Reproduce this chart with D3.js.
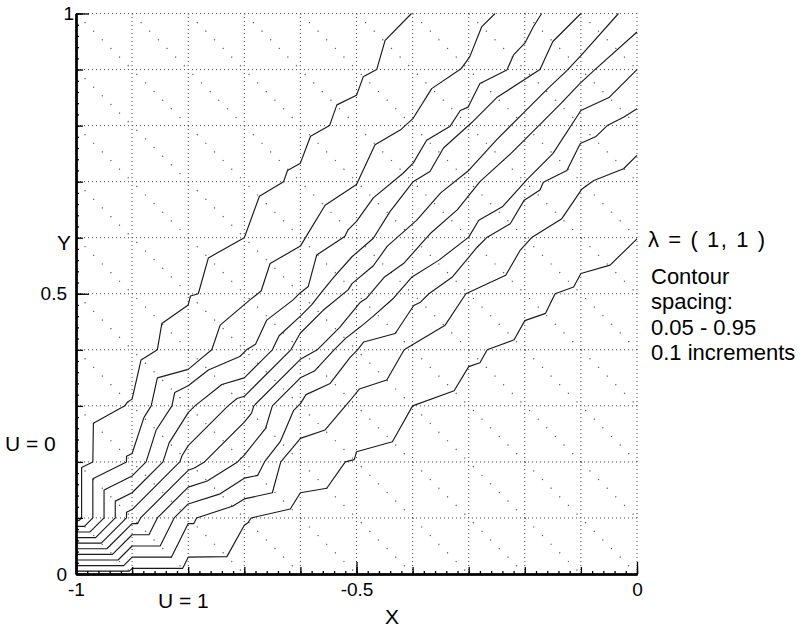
<!DOCTYPE html>
<html>
<head>
<meta charset="utf-8">
<script src="https://cdnjs.cloudflare.com/ajax/libs/d3/7.8.5/d3.min.js"></script>
<style>
  body { margin: 0; background: #fff; }
  svg { display: block; font-family: "Liberation Sans", Arial, Helvetica, sans-serif; }
</style>
</head>
<body>
<div class="canvas"></div>
<script>
// contour levels, 0.05 - 0.95 in 0.1 steps
const levels = [0.05, 0.15, 0.25, 0.35, 0.45, 0.55, 0.65, 0.75, 0.85, 0.95];
const xTickLabels = [-1, -0.5, 0];
const yTickLabels = [0, 0.5, 1];
const gridStep = 0.1;
const minorStep = 0.02;

// contour polylines [x, y]
const contour05 = [[-1,0.095],[-0.995,0.095],[-0.99,0.1],[-0.99,0.19],[-0.97,0.2],[-0.969,0.269],[-0.913,0.3],[-0.908,0.307],[-0.9,0.312],[-0.884,0.382],[-0.855,0.4],[-0.847,0.447],[-0.8,0.48],[-0.796,0.496],[-0.782,0.5],[-0.764,0.564],[-0.7,0.6],[-0.673,0.674],[-0.63,0.7],[-0.623,0.72],[-0.6,0.733],[-0.582,0.781],[-0.548,0.8],[-0.535,0.837],[-0.5,0.854],[-0.488,0.887],[-0.464,0.9],[-0.449,0.952],[-0.402,1]];
const contour15 = [[-1,0.085],[-0.985,0.085],[-0.97,0.1],[-0.97,0.17],[-0.91,0.2],[-0.91,0.21],[-0.9,0.215],[-0.879,0.279],[-0.866,0.3],[-0.855,0.35],[-0.8,0.365],[-0.775,0.386],[-0.758,0.4],[-0.743,0.444],[-0.69,0.489],[-0.67,0.505],[-0.654,0.554],[-0.6,0.585],[-0.588,0.605],[-0.556,0.658],[-0.5,0.695],[-0.467,0.766],[-0.422,0.792],[-0.399,0.813],[-0.366,0.866],[-0.313,0.902],[-0.298,0.923],[-0.277,0.976],[-0.253,1]];
const contour25 = [[-1,0.075],[-0.975,0.075],[-0.95,0.1],[-0.95,0.15],[-0.9,0.175],[-0.875,0.2],[-0.857,0.257],[-0.829,0.3],[-0.824,0.324],[-0.8,0.336],[-0.764,0.364],[-0.708,0.388],[-0.696,0.4],[-0.68,0.41],[-0.66,0.453],[-0.613,0.489],[-0.601,0.501],[-0.586,0.513],[-0.571,0.569],[-0.521,0.602],[-0.515,0.614],[-0.5,0.629],[-0.47,0.671],[-0.417,0.715],[-0.399,0.733],[-0.375,0.774],[-0.333,0.799],[-0.315,0.827],[-0.301,0.833],[-0.28,0.875],[-0.232,0.899],[-0.22,0.926],[-0.2,0.947],[-0.185,0.976],[-0.17,1]];
const contour35 = [[-1,0.065],[-0.965,0.065],[-0.93,0.1],[-0.93,0.13],[-0.9,0.145],[-0.845,0.2],[-0.834,0.234],[-0.8,0.288],[-0.788,0.3],[-0.74,0.338],[-0.7,0.35],[-0.675,0.375],[-0.65,0.4],[-0.638,0.425],[-0.6,0.46],[-0.58,0.48],[-0.559,0.507],[-0.54,0.53],[-0.508,0.566],[-0.47,0.599],[-0.44,0.647],[-0.399,0.7],[-0.369,0.718],[-0.345,0.76],[-0.295,0.805],[-0.25,0.85],[-0.173,0.9],[-0.15,0.95],[-0.1,1]];
const contour45 = [[-1,0.055],[-0.955,0.055],[-0.91,0.1],[-0.91,0.11],[-0.9,0.115],[-0.815,0.2],[-0.811,0.211],[-0.8,0.229],[-0.729,0.3],[-0.713,0.313],[-0.7,0.317],[-0.617,0.4],[-0.6,0.43],[-0.56,0.47],[-0.515,0.507],[-0.508,0.518],[-0.47,0.55],[-0.445,0.585],[-0.393,0.631],[-0.35,0.68],[-0.3,0.72],[-0.25,0.775],[-0.2,0.825],[-0.16,0.865],[-0.125,0.898],[-0.1,0.925],[-0.033,1]];
const contour55 = [[-1,0.045],[-0.945,0.045],[-0.9,0.09],[-0.89,0.09],[-0.885,0.1],[-0.8,0.185],[-0.789,0.189],[-0.771,0.2],[-0.7,0.271],[-0.687,0.287],[-0.683,0.3],[-0.6,0.383],[-0.57,0.4],[-0.53,0.44],[-0.493,0.485],[-0.482,0.492],[-0.45,0.53],[-0.415,0.555],[-0.369,0.607],[-0.32,0.65],[-0.28,0.7],[-0.225,0.75],[-0.175,0.8],[-0.135,0.84],[-0.102,0.875],[-0.075,0.9],[0,0.967]];
const contour65 = [[-1,0.035],[-0.935,0.035],[-0.9,0.07],[-0.87,0.07],[-0.855,0.1],[-0.8,0.155],[-0.766,0.166],[-0.712,0.2],[-0.7,0.212],[-0.662,0.26],[-0.65,0.3],[-0.625,0.325],[-0.6,0.35],[-0.575,0.362],[-0.54,0.4],[-0.52,0.42],[-0.493,0.441],[-0.47,0.46],[-0.434,0.492],[-0.401,0.53],[-0.353,0.56],[-0.3,0.601],[-0.282,0.631],[-0.24,0.655],[-0.195,0.705],[-0.15,0.75],[-0.1,0.827],[-0.05,0.85],[0,0.9]];
const contour75 = [[-1,0.025],[-0.925,0.025],[-0.9,0.05],[-0.85,0.05],[-0.825,0.1],[-0.8,0.125],[-0.743,0.143],[-0.7,0.171],[-0.676,0.176],[-0.664,0.2],[-0.636,0.236],[-0.612,0.292],[-0.6,0.304],[-0.59,0.32],[-0.547,0.34],[-0.511,0.387],[-0.499,0.399],[-0.487,0.414],[-0.431,0.429],[-0.398,0.479],[-0.386,0.485],[-0.371,0.5],[-0.329,0.53],[-0.285,0.583],[-0.267,0.601],[-0.226,0.625],[-0.201,0.667],[-0.173,0.685],[-0.167,0.699],[-0.125,0.72],[-0.101,0.768],[-0.074,0.78],[-0.053,0.8],[-0.024,0.815],[0,0.83]];
const contour85 = [[-1,0.015],[-0.915,0.015],[-0.9,0.03],[-0.83,0.03],[-0.8,0.09],[-0.79,0.09],[-0.785,0.1],[-0.721,0.121],[-0.7,0.134],[-0.65,0.145],[-0.635,0.2],[-0.614,0.225],[-0.6,0.242],[-0.556,0.257],[-0.511,0.31],[-0.495,0.33],[-0.446,0.346],[-0.415,0.4],[-0.395,0.412],[-0.342,0.444],[-0.305,0.5],[-0.234,0.533],[-0.208,0.578],[-0.187,0.601],[-0.134,0.634],[-0.098,0.687],[-0.077,0.702],[-0.024,0.723],[0,0.747]];
const contour95 = [[-1,0.005],[-0.905,0.005],[-0.9,0.01],[-0.81,0.01],[-0.8,0.03],[-0.731,0.031],[-0.7,0.087],[-0.693,0.092],[-0.688,0.1],[-0.618,0.116],[-0.6,0.145],[-0.553,0.153],[-0.52,0.2],[-0.504,0.204],[-0.5,0.218],[-0.436,0.236],[-0.4,0.3],[-0.326,0.327],[-0.3,0.37],[-0.28,0.377],[-0.267,0.4],[-0.219,0.418],[-0.2,0.452],[-0.163,0.465],[-0.146,0.5],[-0.113,0.512],[-0.1,0.536],[-0.048,0.551],[0,0.598]];

const contours = [contour05, contour15, contour25, contour35, contour45,
                  contour55, contour65, contour75, contour85, contour95];

const noteLines = ['Contour', 'spacing:', '0.05 - 0.95', '0.1 increments'];

const dims = { width: 804, height: 627 };
const plot = { left: 76, right: 637, top: 13.5, bottom: 574 };

const svg = d3.select('.canvas')
  .append('svg')
  .attr('width', dims.width)
  .attr('height', dims.height);

const x = d3.scaleLinear().domain([-1, 0]).range([plot.left, plot.right]);
const y = d3.scaleLinear().domain([0, 1]).range([plot.bottom, plot.top]);

const line = d3.line().x(d => x(d[0])).y(d => y(d[1]));

// dotted grid every 0.1 (right and top edges are dotted too)
const gridX = d3.range(1, 11).map(i => -1 + i * gridStep);
const gridY = d3.range(1, 11).map(i => i * gridStep);
const grid = svg.append('g')
  .attr('stroke', '#444')
  .attr('stroke-width', 1)
  .attr('stroke-dasharray', '1,3');
grid.selectAll('.gx').data(gridX).enter().append('line')
  .attr('x1', d => x(d)).attr('x2', d => x(d))
  .attr('y1', y(0)).attr('y2', y(1));
grid.selectAll('.gy').data(gridY).enter().append('line')
  .attr('y1', d => y(d)).attr('y2', d => y(d))
  .attr('x1', x(-1)).attr('x2', x(0));

// mesh diagonals (x + 1) + y = c, running top-left to bottom-right
const diag = d3.range(1, 20).map(k => {
  const c = k * gridStep;
  return c <= 1 ? [[-1, c], [-1 + c, 0]] : [[-2 + c, 1], [0, c - 1]];
});
svg.append('g')
  .attr('stroke', '#555')
  .attr('stroke-width', 1.2)
  .attr('stroke-dasharray', '1.2,11')
  .attr('fill', 'none')
  .selectAll('path').data(diag).enter().append('path')
  .attr('d', line);

// contour lines
svg.append('g')
  .attr('fill', 'none')
  .attr('stroke', '#1a1a1a')
  .attr('stroke-width', 1.15)
  .attr('stroke-linejoin', 'round')
  .selectAll('path').data(contours).enter().append('path')
  .attr('class', (d, i) => 'contour u' + levels[i])
  .attr('d', line);

// axes: ticks point inward
const fmt = d => String(d);
const minorTicks = d3.range(0, 51).map(i => i * minorStep);
const midTicks = d3.range(0, 11).map(i => i * gridStep);

const yAxis = svg.append('g').attr('transform', `translate(${plot.left},0)`);
yAxis.append('g').call(d3.axisLeft(y).tickValues(minorTicks).tickSize(-3).tickSizeOuter(0).tickFormat(''));
yAxis.append('g').call(d3.axisLeft(y).tickValues(midTicks).tickSize(-7).tickSizeOuter(0).tickFormat(''));
const yMajor = yAxis.append('g').call(d3.axisLeft(y).tickValues(yTickLabels).tickSize(-13).tickSizeOuter(0).tickPadding(9).tickFormat(fmt));
// the "1" label sits close to the axis in the original
yMajor.selectAll('.tick text').filter(d => d === 1).attr('dx', 7);

const xAxis = svg.append('g').attr('transform', `translate(0,${plot.bottom})`);
xAxis.append('g').call(d3.axisBottom(x).tickValues(minorTicks.map(v => v - 1)).tickSize(-3).tickSizeOuter(0).tickFormat(''));
xAxis.append('g').call(d3.axisBottom(x).tickValues(midTicks.map(v => v - 1)).tickSize(-7).tickSizeOuter(0).tickFormat(''));
xAxis.append('g').call(d3.axisBottom(x).tickValues(xTickLabels).tickSize(-12).tickSizeOuter(0).tickPadding(9).tickFormat(fmt));

svg.selectAll('.domain').attr('stroke', '#000').attr('stroke-width', 2);
svg.selectAll('.tick line').attr('stroke', '#000').attr('stroke-width', 1.3);
svg.selectAll('.tick text')
  .attr('font-family', '"Liberation Sans", Arial, sans-serif')
  .attr('font-size', 19)
  .attr('fill', '#000');

// labels
const label = (txt, px, py, size) => svg.append('text')
  .attr('x', px).attr('y', py)
  .attr('font-size', size)
  .attr('fill', '#000')
  .text(txt);

label('Y', 57, 250, 21);
label('X', 385, 624, 21);
label('U = 0', 5, 451, 21);
label('U = 1', 158, 608, 21);
label('\u03bb = ( 1, 1 )', 648, 247, 22)
  .attr('textLength', 117)
  .attr('lengthAdjust', 'spacing');
noteLines.forEach((t, i) => label(t, 651, 284 + i * 25.3, 22));
</script>
</body>
</html>
